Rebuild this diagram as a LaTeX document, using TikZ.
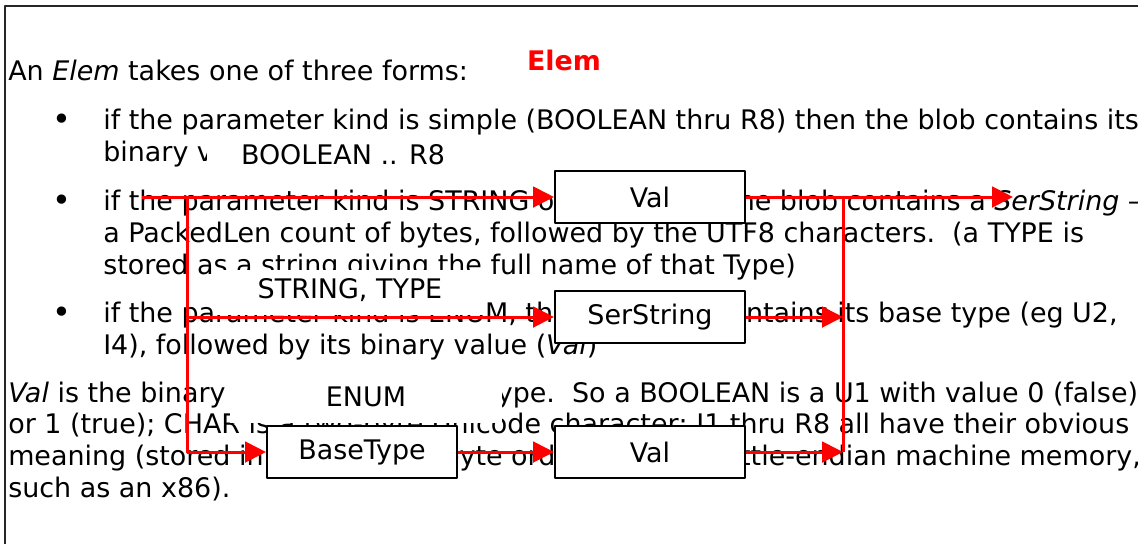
\documentclass[tikz,border=0pt]{standalone}
\usepackage{fontspec}
\setmainfont{DejaVu Sans}
\usetikzlibrary{arrows.meta}

\begin{document}
\begin{tikzpicture}[line join=round, x=0.75pt, y=-0.75pt,
    >={Triangle[length=15.75pt,width=15.5pt]},
    body/.style={anchor=base west, inner sep=0pt, font=\fontsize{20.2}{24}\selectfont\frenchspacing},
    dot/.style={inner sep=0pt, font=\fontsize{24}{24}\selectfont},
    tag/.style={anchor=base, fill=white, inner xsep=0pt, inner ysep=0pt, minimum width=204pt, text height=21pt, text depth=12.75pt, font=\fontsize{20.2}{24}\selectfont},
    box/.style={draw, line width=1.5pt, fill=white, minimum width=142.5pt, minimum height=39pt, font=\fontsize{20.2}{24}\selectfont},
    flow/.style={draw=red, line width=2.25pt}]
    \useasboundingbox (0,0) rectangle (1138,544);

    % page frame
    \draw[line width=1.5pt, black!85] (1138,6) -- (5,6) -- (5,544);

    % the text underneath
    \node[body] (intro) at (8,80) {An \emph{Elem} takes one of three forms:};

    \node[dot] (b1) at (62,122) {•};
    \node[body] (simpleA) at (103,129) {if the parameter kind is simple (BOOLEAN thru R8) then the blob contains its};
    \node[body] (simpleB) at (103,161) {binary value (\emph{Val})};

    \node[dot] (b2) at (62,203) {•};
    \node[body] (stringA) at (103,210) {if the parameter kind is STRING or TYPE, then the blob contains a \emph{SerString} –};
    \node[body] (stringB) at (103,242) {a PackedLen count of bytes, followed by the UTF8 characters.\ \ (a TYPE is};
    \node[body] (stringC) at (103,274) {stored as a string giving the full name of that Type)};

    \node[dot] (b3) at (62,315) {•};
    \node[body] (enumA) at (103,322) {if the parameter kind is ENUM, then the blob contains its base type (eg U2,};
    \node[body] (enumB) at (103,354) {I4), followed by its binary value (\emph{Val})};

    \node[body] (noteA) at (8,402) {\emph{Val} is the binary value of the given type.\ \ So a BOOLEAN is a U1 with value 0 (false)};
    \node[body] (noteB) at (8,433) {or 1 (true); CHAR is a two-byte Unicode character; I1 thru R8 all have their obvious};
    \node[body] (noteC) at (8,465) {meaning (stored in little-endian byte order, as in the little-endian machine memory,};
    \node[body] (noteD) at (8,497) {such as an x86).};

    % diagram on top
    \node[anchor=base, text=red, font=\fontsize{20.2}{24}\selectfont\bfseries] (title) at (564,70) {Elem};

    \node[tag] (simpleTag) at (343,164) {BOOLEAN .. R8};
    \node[tag] (stringTag) at (350,298) {STRING, TYPE};
    \node[tag] (enumTag) at (366,406) {ENUM};

    \node[box] (valA) at (650,197) {Val};
    \node[box] (serstr) at (650,317) {SerString};
    \node[box] (basetype) at (362,452) {BaseType};
    \node[box] (valB) at (650,452) {Val};

    \coordinate (start) at (142,197);
    \coordinate (fork) at (187,197);
    \coordinate (merge) at (843,197);
    \coordinate (finish) at (1013,197);
    \coordinate (mergeEnd) at (843,452);

    \draw[flow,->] (start) -- (valA.west);
    \draw[flow,->] (fork) |- (basetype.west);
    \draw[flow,->] (fork |- serstr.west) -- (serstr.west);
    \draw[flow,->] (basetype.east) -- (valB.west);

    \draw[flow,->] (valA.east) -- (finish);
    \draw[flow] (merge) -- (mergeEnd);
    \draw[flow,->] (serstr.east) -- (serstr.east -| merge);
    \draw[flow,->] (valB.east) -- (mergeEnd);
\end{tikzpicture}
\end{document}
